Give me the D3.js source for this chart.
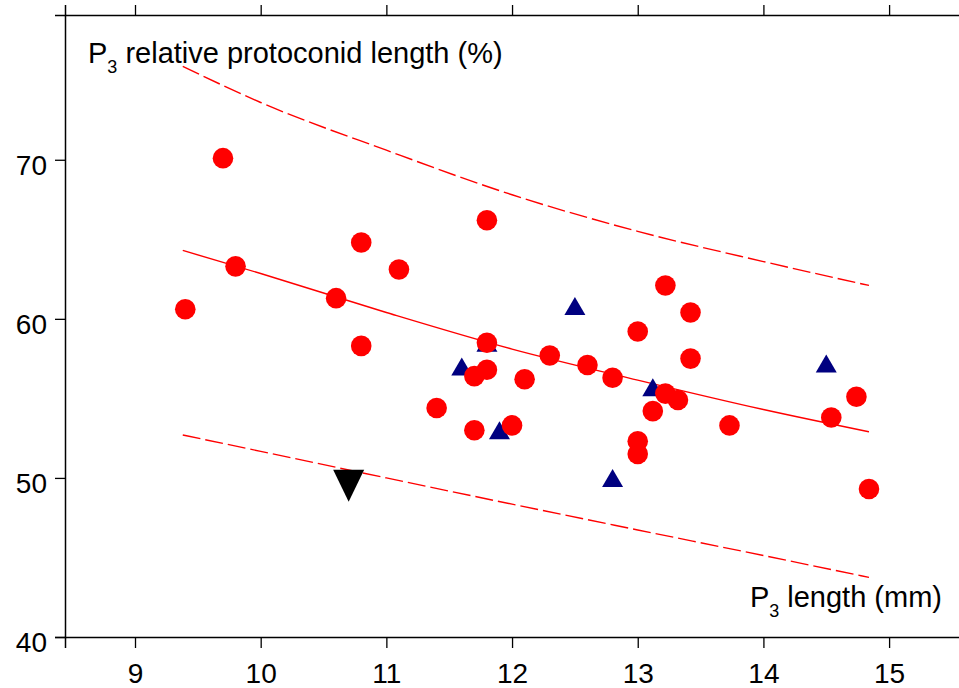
<!DOCTYPE html>
<html>
<head>
<meta charset="utf-8">
<script src="https://cdn.jsdelivr.net/npm/d3@7"></script>
<style>
    body { margin: 0; background: #fff; }
    text { font-family: Arial, "Liberation Sans", sans-serif; fill: #000; }
</style>
</head>
<body>
<div id="chart"></div>
<script>
// red circles
const redLength = [9.4, 9.7, 9.8, 10.6, 10.8, 10.8, 11.1, 11.4, 11.7, 11.7, 11.8, 11.8, 11.8, 12.0, 12.1, 12.3,
    12.6, 12.8, 13.0, 13.0, 13.0, 13.12, 13.22, 13.22, 13.32, 13.42, 13.42, 13.73, 14.54, 14.74, 14.84];
const redProto = [60.6, 70.1, 63.3, 61.3, 64.8, 58.3, 63.1, 54.4, 53.0, 56.4, 66.2, 58.5, 56.8, 53.3, 56.2, 57.7,
    57.1, 56.3, 59.2, 52.3, 51.5, 54.2, 62.1, 55.3, 54.9, 60.4, 57.5, 53.3, 53.8, 55.1, 49.3];

// blue triangles
const blueLength = [11.6, 11.8, 11.9, 12.5, 12.8, 13.12, 14.5];
const blueProto = [57.0, 58.5, 53.0, 60.8, 50.0, 55.7, 57.2];

// black inverted triangle
const blackLength = [10.7];
const blackProto = [49.5];

// fit line and limits
const fitLength = [9.38, 10, 11, 12, 13, 14, 14.84];
const fitProto = [64.3, 62.85, 60.4, 58.1, 56.15, 54.3, 52.9];
const upperProto = [75.87, 73.6, 70.6, 67.8, 65.5, 63.6, 62.1];
const lowerProto = [52.7, 51.67, 50.0, 48.35, 46.73, 45.12, 43.75];

const xTicks = [9, 10, 11, 12, 13, 14, 15];
const yTicks = [40, 50, 60, 70];

const width = 959;
const height = 688;
const plot = { left: 65, right: 964.5, top: 15, bottom: 637 };

const svg = d3
    .select("#chart")
    .append("svg")
    .attr("width", width)
    .attr("height", height);

const x = d3.scaleLinear().domain([8.443, 15.6]).range([plot.left, plot.right]);
const y = d3.scaleLinear().domain([40, 79.1]).range([plot.bottom, plot.top]);

// axes
const xAxisBottom = svg
    .append("g")
    .attr("transform", `translate(0, ${plot.bottom})`)
    .call(d3.axisBottom(x).tickValues(xTicks).tickSizeOuter(0).tickSize(11).tickPadding(15));
const xAxisTop = svg
    .append("g")
    .attr("transform", `translate(0, ${plot.top})`)
    .call(d3.axisTop(x).tickValues(xTicks).tickSizeOuter(0).tickSize(10).tickFormat(""));
const yAxis = svg
    .append("g")
    .attr("transform", `translate(${plot.left}, 0)`)
    .call(d3.axisLeft(y).tickValues(yTicks).tickSizeOuter(0).tickSize(10).tickPadding(8));

[xAxisBottom, xAxisTop, yAxis].forEach((g) => {
    g.selectAll("path.domain").attr("stroke", "#000").attr("stroke-width", 1.5);
    g.selectAll(".tick line").attr("stroke", "#000").attr("stroke-width", 1.3);
    g.selectAll(".tick text").attr("font-size", "28px").attr("fill", "#000")
        .attr("font-family", "Arial, 'Liberation Sans', sans-serif");
});
yAxis.selectAll(".tick text").attr("dy", "0.52em");

// lines
const line = d3
    .line()
    .x((d) => x(d[0]))
    .y((d) => y(d[1]))
    .curve(d3.curveMonotoneX);

const lines = svg.append("g").attr("id", "lines");
lines
    .append("path")
    .attr("d", line(fitLength.map((v, i) => [v, fitProto[i]])))
    .attr("fill", "none")
    .attr("stroke", "#ff0000")
    .attr("stroke-width", 1.4);
[upperProto, lowerProto].forEach((arr) => {
    lines
        .append("path")
        .attr("d", line(fitLength.map((v, i) => [v, arr[i]])))
        .attr("fill", "none")
        .attr("stroke", "#ff0000")
        .attr("stroke-width", 1.4)
        .attr("stroke-dasharray", "18,5");
});

// markers
const markers = svg.append("g").attr("id", "markers");
const triUp = (cx, cy, w, h) =>
    `M${cx - w / 2},${cy + h / 2}L${cx + w / 2},${cy + h / 2}L${cx},${cy - h / 2}Z`;
const triDown = (cx, cy, w, h) =>
    `M${cx - w / 2},${cy - h / 2}L${cx + w / 2},${cy - h / 2}L${cx},${cy + h / 2}Z`;

markers
    .selectAll("path.blue")
    .data(blueLength)
    .enter()
    .append("path")
    .attr("class", "blue")
    .attr("d", (d, i) => triUp(x(d), y(blueProto[i]), 21, 18))
    .attr("fill", "#000080");

markers
    .selectAll("path.black")
    .data(blackLength)
    .enter()
    .append("path")
    .attr("class", "black")
    .attr("d", (d, i) => triDown(x(d), y(blackProto[i]), 31, 32))
    .attr("fill", "#000");

markers
    .selectAll("circle")
    .data(redLength)
    .enter()
    .append("circle")
    .attr("cx", (d) => x(d))
    .attr("cy", (d, i) => y(redProto[i]))
    .attr("r", 10.3)
    .attr("fill", "#ff0000");

// axis titles
const yTitle = svg.append("text").attr("x", 88).attr("y", 63).attr("font-size", "29px");
yTitle.append("tspan").text("P");
yTitle.append("tspan").attr("font-size", "18px").attr("dy", 10).text("3");
yTitle.append("tspan").attr("dy", -10).text(" relative protoconid length (%)");

const xTitle = svg
    .append("text")
    .attr("x", 942)
    .attr("y", 607)
    .attr("text-anchor", "end")
    .attr("font-size", "29px");
xTitle.append("tspan").text("P");
xTitle.append("tspan").attr("font-size", "18px").attr("dy", 10).text("3");
xTitle.append("tspan").attr("dy", -10).text(" length (mm)");
</script>
</body>
</html>
